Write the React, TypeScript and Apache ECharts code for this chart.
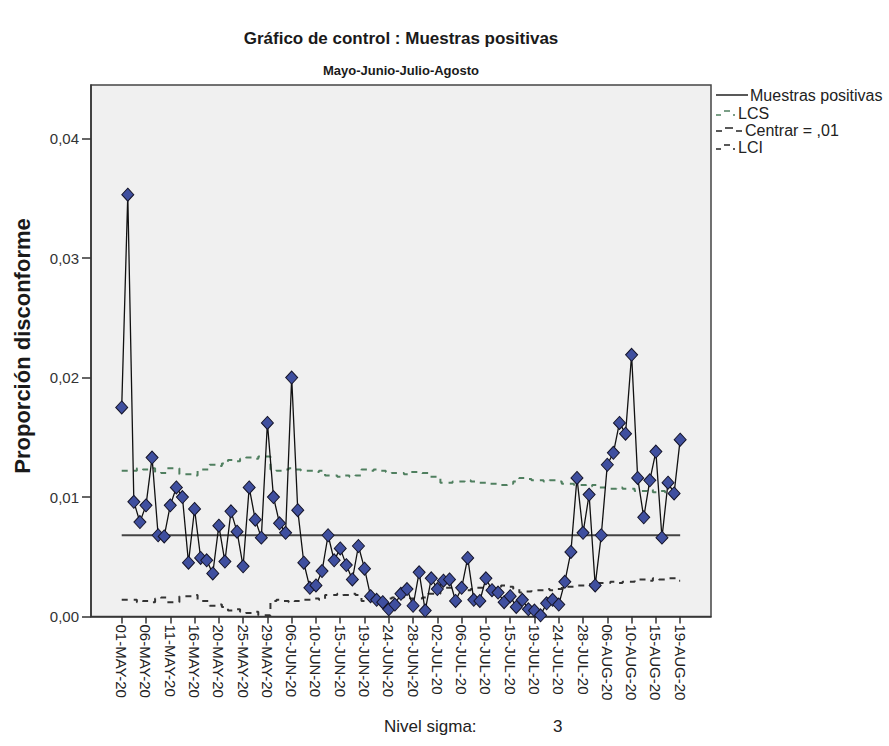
import React, { useEffect, useRef } from "react";
import * as echarts from "echarts";

// Categories (sample dates); a label is shown every 4th one
const dates: string[] = [
  "01-MAY-20", "02-MAY-20", "04-MAY-20", "05-MAY-20", "06-MAY-20",
  "07-MAY-20", "08-MAY-20", "09-MAY-20", "11-MAY-20",
  "12-MAY-20", "13-MAY-20", "15-MAY-20", "16-MAY-20",
  "17-MAY-20", "18-MAY-20", "19-MAY-20", "20-MAY-20",
  "21-MAY-20", "22-MAY-20", "23-MAY-20", "25-MAY-20",
  "26-MAY-20", "27-MAY-20", "28-MAY-20", "29-MAY-20",
  "31-MAY-20", "02-JUN-20", "04-JUN-20", "06-JUN-20",
  "07-JUN-20", "08-JUN-20", "09-JUN-20", "10-JUN-20",
  "11-JUN-20", "12-JUN-20", "13-JUN-20", "15-JUN-20",
  "16-JUN-20", "17-JUN-20", "18-JUN-20", "19-JUN-20",
  "20-JUN-20", "21-JUN-20", "23-JUN-20", "24-JUN-20",
  "25-JUN-20", "26-JUN-20", "27-JUN-20", "28-JUN-20",
  "29-JUN-20", "30-JUN-20", "01-JUL-20", "02-JUL-20",
  "03-JUL-20", "04-JUL-20", "05-JUL-20", "06-JUL-20",
  "07-JUL-20", "08-JUL-20", "09-JUL-20", "10-JUL-20",
  "11-JUL-20", "13-JUL-20", "14-JUL-20", "15-JUL-20",
  "16-JUL-20", "17-JUL-20", "18-JUL-20", "19-JUL-20",
  "20-JUL-20", "21-JUL-20", "22-JUL-20", "24-JUL-20",
  "25-JUL-20", "26-JUL-20", "27-JUL-20", "28-JUL-20",
  "29-JUL-20", "31-JUL-20", "03-AUG-20", "06-AUG-20",
  "07-AUG-20", "08-AUG-20", "09-AUG-20", "10-AUG-20",
  "11-AUG-20", "12-AUG-20", "14-AUG-20", "15-AUG-20",
  "16-AUG-20", "17-AUG-20", "18-AUG-20", "19-AUG-20",
];

// Labelled tick dates
const tickLabels: string[] = [
  "01-MAY-20", "06-MAY-20", "11-MAY-20", "16-MAY-20", "20-MAY-20", "25-MAY-20",
  "29-MAY-20", "06-JUN-20", "10-JUN-20", "15-JUN-20", "19-JUN-20", "24-JUN-20",
  "28-JUN-20", "02-JUL-20", "06-JUL-20", "10-JUL-20", "15-JUL-20", "19-JUL-20",
  "24-JUL-20", "28-JUL-20", "06-AUG-20", "10-AUG-20", "15-AUG-20", "19-AUG-20",
];

// Proportion of positive samples
const muestras: number[] = [
  0.0175, 0.0353, 0.0096, 0.0079, 0.0093, 0.0133, 0.0068, 0.0067, 0.0093, 0.0108,
  0.0100, 0.0045, 0.0090, 0.0049, 0.0047, 0.0036, 0.0076, 0.0046, 0.0088, 0.0071,
  0.0042, 0.0108, 0.0081, 0.0066, 0.0162, 0.0100, 0.0078, 0.0070, 0.0200, 0.0089,
  0.0045, 0.0024, 0.0026, 0.0038, 0.0068, 0.0047, 0.0057, 0.0043, 0.0031, 0.0059,
  0.0040, 0.0017, 0.0014, 0.0012, 0.0006, 0.0010, 0.0019, 0.0023, 0.0009, 0.0037,
  0.0005, 0.0032, 0.0023, 0.0030, 0.0031, 0.0013, 0.0024, 0.0049, 0.0014, 0.0013,
  0.0032, 0.0022, 0.0020, 0.0012, 0.0017, 0.0008, 0.0014, 0.0006, 0.0005, 0.0001,
  0.0011, 0.0014, 0.0010, 0.0029, 0.0054, 0.0116, 0.0070, 0.0102, 0.0026, 0.0068,
  0.0127, 0.0137, 0.0162, 0.0153, 0.0219, 0.0116, 0.0083, 0.0114, 0.0138, 0.0066,
  0.0112, 0.0103, 0.0148,
];

// Upper control limit (LCS)
const lcs: number[] = [
  0.0122, 0.0122, 0.0122, 0.0124, 0.0123, 0.0124, 0.0121, 0.0120, 0.0124, 0.0124,
  0.0119, 0.0119, 0.0118, 0.0123, 0.0123, 0.0127, 0.0126, 0.0128, 0.0131, 0.0130,
  0.0132, 0.0133, 0.0132, 0.0134, 0.0134, 0.0123, 0.0122, 0.0123, 0.0124, 0.0123,
  0.0122, 0.0122, 0.0121, 0.0122, 0.0118, 0.0118, 0.0117, 0.0118, 0.0117, 0.0118,
  0.0123, 0.0122, 0.0123, 0.0122, 0.0121, 0.0120, 0.0120, 0.0119, 0.0121, 0.0121,
  0.0120, 0.0117, 0.0117, 0.0112, 0.0112, 0.0113, 0.0113, 0.0114, 0.0113, 0.0112,
  0.0112, 0.0111, 0.0111, 0.0110, 0.0111, 0.0113, 0.0116, 0.0115, 0.0114, 0.0114,
  0.0113, 0.0114, 0.0113, 0.0111, 0.0111, 0.0110, 0.0110, 0.0109, 0.0110, 0.0108,
  0.0108, 0.0107, 0.0108, 0.0107, 0.0107, 0.0105, 0.0105, 0.0106, 0.0104, 0.0105,
  0.0104, 0.0104, 0.0106,
];

// Lower control limit (LCI)
const lci: number[] = [
  0.0014, 0.0014, 0.0014, 0.0012, 0.0013, 0.0012, 0.0015, 0.0016, 0.0012, 0.0012,
  0.0017, 0.0017, 0.0018, 0.0013, 0.0013, 0.0009, 0.0010, 0.0008, 0.0005, 0.0006,
  0.0004, 0.0003, 0.0004, 0.0001, 0.0001, 0.0013, 0.0014, 0.0013, 0.0012, 0.0013,
  0.0014, 0.0014, 0.0015, 0.0014, 0.0018, 0.0018, 0.0019, 0.0018, 0.0019, 0.0018,
  0.0013, 0.0014, 0.0013, 0.0014, 0.0015, 0.0016, 0.0016, 0.0017, 0.0015, 0.0015,
  0.0016, 0.0019, 0.0019, 0.0024, 0.0024, 0.0023, 0.0023, 0.0022, 0.0023, 0.0024,
  0.0024, 0.0025, 0.0025, 0.0026, 0.0025, 0.0023, 0.0020, 0.0021, 0.0022, 0.0022,
  0.0023, 0.0022, 0.0023, 0.0025, 0.0025, 0.0026, 0.0026, 0.0027, 0.0026, 0.0028,
  0.0028, 0.0029, 0.0028, 0.0029, 0.0029, 0.0031, 0.0031, 0.0030, 0.0032, 0.0031,
  0.0032, 0.0032, 0.0030,
];

// Centre line
const centro = 0.0068;

const yTicks: number[] = [0, 0.01, 0.02, 0.03, 0.04];

const FONT = "'Liberation Sans', Arial, sans-serif";

export default function App() {
  const ref = useRef<HTMLDivElement>(null);

  useEffect(() => {
    if (!ref.current) return;
    const chart = echarts.init(ref.current, null, { renderer: "svg" });

    const tickIdx = tickLabels.map((d) => dates.indexOf(d));
    const pts = (arr: number[]) => arr.map((v, i) => [i, v]);

    const legendY = [95, 113, 130, 147];
    const legendFont = `16px ${FONT}`;

    const option: any = {
      animation: false,
      backgroundColor: "#ffffff",
      textStyle: { fontFamily: FONT },
      grid: {
        left: 91,
        right: 178,
        top: 85,
        bottom: 129.5,
        show: true,
        backgroundColor: "#F0F0F0",
        borderColor: "#444",
        borderWidth: 1.5,
        containLabel: false,
      },
      xAxis: {
        type: "value",
        min: -5.06,
        max: 97.08,
        axisLine: { show: true, onZero: false, lineStyle: { color: "#333", width: 1.5 } },
        axisTick: {
          show: true,
          customValues: tickIdx,
          length: 7,
          lineStyle: { color: "#333", width: 1.5 },
        },
        axisLabel: {
          customValues: tickIdx,
          rotate: -90,
          margin: 8,
          fontSize: 15,
          color: "#222",
          fontFamily: FONT,
          formatter: (v: number) => dates[Math.round(v)] ?? "",
        },
        splitLine: { show: false },
      },
      yAxis: {
        type: "value",
        min: 0,
        max: 0.04448,
        axisLine: { show: true, onZero: false, lineStyle: { color: "#333", width: 1.5 } },
        axisTick: {
          show: true,
          customValues: yTicks,
          length: 9,
          lineStyle: { color: "#333", width: 1.5 },
        },
        axisLabel: {
          customValues: yTicks,
          margin: 12,
          fontSize: 15,
          color: "#333",
          fontFamily: FONT,
          formatter: (v: number) => v.toFixed(2).replace(".", ","),
        },
        splitLine: { show: false },
      },
      series: [
        {
          name: "Centrar = ,01",
          type: "line",
          data: pts(muestras.map(() => centro)),
          symbol: "none",
          lineStyle: { color: "#444", width: 2 },
          z: 2,
        },
        {
          name: "LCS",
          type: "line",
          step: "middle",
          data: pts(lcs),
          symbol: "none",
          lineStyle: { color: "#4F7F5F", width: 2, type: [6, 6] },
          z: 2,
        },
        {
          name: "LCI",
          type: "line",
          step: "middle",
          data: pts(lci),
          symbol: "none",
          lineStyle: { color: "#333", width: 2, type: [6, 6] },
          z: 2,
        },
        {
          name: "Muestras positivas",
          type: "line",
          data: pts(muestras),
          symbol: "diamond",
          symbolSize: [12, 13],
          lineStyle: { color: "#111", width: 1.3 },
          itemStyle: { color: "#3F4F9F", borderColor: "#15152a", borderWidth: 1 },
          z: 5,
        },
      ],
      graphic: [
        {
          type: "text",
          x: 401,
          y: 38,
          style: {
            text: "Gráfico de control : Muestras positivas",
            font: `bold 17px ${FONT}`,
            fill: "#1a1a1a",
            align: "center",
            verticalAlign: "middle",
          },
        },
        {
          type: "text",
          x: 401,
          y: 70,
          style: {
            text: "Mayo-Junio-Julio-Agosto",
            font: `bold 13px ${FONT}`,
            fill: "#1a1a1a",
            align: "center",
            verticalAlign: "middle",
          },
        },
        {
          type: "text",
          x: 22,
          y: 346,
          rotation: Math.PI / 2,
          style: {
            text: "Proporción disconforme",
            font: `bold 22px ${FONT}`,
            fill: "#1a1a1a",
            align: "center",
            verticalAlign: "middle",
          },
        },
        {
          type: "text",
          x: 384,
          y: 726,
          style: {
            text: "Nivel sigma:",
            font: `17px ${FONT}`,
            fill: "#222",
            align: "left",
            verticalAlign: "middle",
          },
        },
        {
          type: "text",
          x: 553,
          y: 726,
          style: {
            text: "3",
            font: `17px ${FONT}`,
            fill: "#222",
            align: "left",
            verticalAlign: "middle",
          },
        },
        // Legend
        {
          type: "line",
          shape: { x1: 716, y1: legendY[0], x2: 748, y2: legendY[0] },
          style: { stroke: "#222", lineWidth: 1.5 },
        },
        {
          type: "text",
          x: 750,
          y: legendY[0],
          style: { text: "Muestras positivas", font: legendFont, fill: "#222", verticalAlign: "middle" },
        },
        {
          type: "polyline",
          shape: { points: [[716, legendY[1] + 2], [721, legendY[1] + 2]] },
          style: { stroke: "#4F7F5F", lineWidth: 1.5 },
        },
        {
          type: "polyline",
          shape: { points: [[724, legendY[1] - 2], [730, legendY[1] - 2]] },
          style: { stroke: "#4F7F5F", lineWidth: 1.5 },
        },
        {
          type: "polyline",
          shape: { points: [[733, legendY[1] + 2], [735, legendY[1] + 2]] },
          style: { stroke: "#4F7F5F", lineWidth: 1.5 },
        },
        {
          type: "text",
          x: 738,
          y: legendY[1],
          style: { text: "LCS", font: legendFont, fill: "#222", verticalAlign: "middle" },
        },
        {
          type: "polyline",
          shape: { points: [[716, legendY[2] + 1], [722, legendY[2] + 1]] },
          style: { stroke: "#222", lineWidth: 1.5 },
        },
        {
          type: "polyline",
          shape: { points: [[725, legendY[2] - 2], [733, legendY[2] - 2]] },
          style: { stroke: "#222", lineWidth: 1.5 },
        },
        {
          type: "polyline",
          shape: { points: [[736, legendY[2] + 1], [742, legendY[2] + 1]] },
          style: { stroke: "#222", lineWidth: 1.5 },
        },
        {
          type: "text",
          x: 745,
          y: legendY[2],
          style: { text: "Centrar = ,01", font: legendFont, fill: "#222", verticalAlign: "middle" },
        },
        {
          type: "polyline",
          shape: { points: [[716, legendY[3] + 2], [721, legendY[3] + 2]] },
          style: { stroke: "#222", lineWidth: 1.5 },
        },
        {
          type: "polyline",
          shape: { points: [[724, legendY[3] - 2], [730, legendY[3] - 2]] },
          style: { stroke: "#222", lineWidth: 1.5 },
        },
        {
          type: "polyline",
          shape: { points: [[733, legendY[3] + 2], [735, legendY[3] + 2]] },
          style: { stroke: "#222", lineWidth: 1.5 },
        },
        {
          type: "text",
          x: 738,
          y: legendY[3],
          style: { text: "LCI", font: legendFont, fill: "#222", verticalAlign: "middle" },
        },
      ],
    };

    chart.setOption(option);
    return () => chart.dispose();
  }, []);

  return <div ref={ref} style={{ width: 889, height: 746, position: "absolute", left: 0, top: 0 }} />;
}
